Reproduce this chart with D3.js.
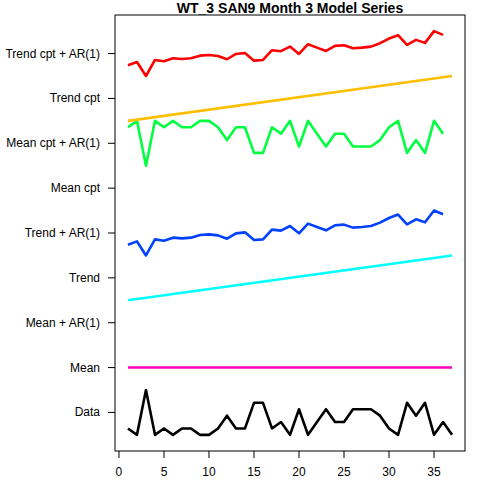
<!DOCTYPE html>
<html lang="en">
<head>
<meta charset="utf-8">
<title>WT_3 SAN9 Month 3 Model Series</title>
<script src="https://cdn.jsdelivr.net/npm/d3@7"></script>
<style>
body { margin: 0; background: #fff; }
text { font-family: "Liberation Sans", Arial, sans-serif; }
</style>
</head>
<body>
<script>
// series labels, bottom to top
var seriesNames = ["Data", "Mean", "Mean + AR(1)", "Trend", "Trend + AR(1)",
                   "Mean cpt", "Mean cpt + AR(1)", "Trend cpt", "Trend cpt + AR(1)"];
var seriesColors = ["#000000", "#FF00BF", "#8000FF", "#00FFFF", "#0040FF",
                    "#80FF00", "#00FF40", "#FFBF00", "#FF0000"];

var xTicks = [0, 5, 10, 15, 20, 25, 30, 35];

// observed series, index 1..37
var obsX = [1,2,3,4,5,6,7,8,9,10,11,12,13,14,15,16,17,18,19,20,21,22,23,24,25,26,27,28,29,30,31,32,33,34,35,36,37];
var dataVals = [1,0,7,0,1,0,1,1,0,0,1,3,1,1,5,5,1,2,0,4,0,2,4,2,2,4,4,4,3,1,0,5,3,5,0,2,0];

// model fits (AR fits have one value less)
var arX = [1,2,3,4,5,6,7,8,9,10,11,12,13,14,15,16,17,18,19,20,21,22,23,24,25,26,27,28,29,30,31,32,33,34,35,36];
var lineX = [1, 37];
var meanVals = [2.3, 2.3];
var meanArVals = [];
var trendVals = [1.2, 3.4];
var trendArVals = [10.7,14,0,16,14.7,17.7,17,17.7,20.3,21,20,16.7,22,23,15.3,16,25.7,24.7,29.3,22,31.7,28.3,25,30,30.7,27.7,28.3,29.3,32.7,37.3,40.7,31,36,33,44.7,41];
var meanCptVals = [];
var meanCptArVals = [6,7,0,7,6,7,6,6,7,7,6,4,6,6,2,2,6,5,7,3,7,5,3,5,5,3,3,3,4,6,7,2,4,2,7,5];
var trendCptVals = [1.2, 3.4];
var trendCptArVals = [10.7,14,0,16,14.7,17.7,17,17.7,20.3,21,20,16.7,22,23,15.3,16,25.7,24.7,29.3,22,31.7,28.3,25,30,30.7,27.7,28.3,29.3,32.7,37.3,40.7,31,36,33,44.7,41];

var seriesX = [obsX, lineX, arX, lineX, arX, lineX, arX, lineX, arX];
var seriesY = [dataVals, meanVals, meanArVals, trendVals, trendArVals,
               meanCptVals, meanCptArVals, trendCptVals, trendCptArVals];

var w = 480, h = 480;
var plotL = 115, plotR = 465, plotT = 15, plotB = 451;

var svg = d3.select("body").append("svg")
    .attr("width", w)
    .attr("height", h);

var x = d3.scaleLinear().domain([-0.44, 38.44]).range([plotL, plotR]);
var y = d3.scaleLinear().domain([0.14, 9.86]).range([plotB, plotT]);

// each series squeezed into its own band
seriesY.forEach(function(vals, i) {
    if (vals.length == 0) return;
    var pos = i + 1;
    var ext = d3.extent(vals);
    var band = d3.scaleLinear().domain(ext).range([pos - 0.5, pos + 0.5]);
    var pts = vals.map(function(v, j) {
        return [seriesX[i][j], ext[0] == ext[1] ? pos : band(v)];
    });
    svg.append("path")
        .datum(pts)
        .attr("fill", "none")
        .attr("stroke", seriesColors[i])
        .attr("stroke-width", 2.6)
        .attr("stroke-linejoin", "round")
        .attr("d", d3.line()
            .x(function(d) { return x(d[0]); })
            .y(function(d) { return y(d[1]); }));
});

// box
svg.append("rect")
    .attr("x", plotL).attr("y", plotT)
    .attr("width", plotR - plotL).attr("height", plotB - plotT)
    .attr("fill", "none")
    .attr("stroke", "#000")
    .attr("stroke-width", 1);

// y axis
var yAxis = svg.append("g");
seriesNames.forEach(function(name, i) {
    var yy = y(i + 1);
    yAxis.append("line")
        .attr("x1", plotL - 7).attr("x2", plotL)
        .attr("y1", yy).attr("y2", yy)
        .attr("stroke", "#000");
    yAxis.append("text")
        .attr("x", plotL - 15)
        .attr("y", yy + 4)
        .attr("text-anchor", "end")
        .attr("font-size", 12)
        .text(name);
});

// x axis
var xAxis = svg.append("g");
xTicks.forEach(function(t) {
    xAxis.append("line")
        .attr("x1", x(t)).attr("x2", x(t))
        .attr("y1", plotB).attr("y2", plotB + 7)
        .attr("stroke", "#000");
    xAxis.append("text")
        .attr("x", x(t))
        .attr("y", plotB + 25)
        .attr("text-anchor", "middle")
        .attr("font-size", 12)
        .text(t);
});

// title
svg.append("text")
    .attr("x", (plotL + plotR) / 2)
    .attr("y", 13)
    .attr("text-anchor", "middle")
    .attr("font-size", 14)
    .attr("font-weight", "bold")
    .text("WT_3 SAN9 Month 3 Model Series");
</script>
</body>
</html>
